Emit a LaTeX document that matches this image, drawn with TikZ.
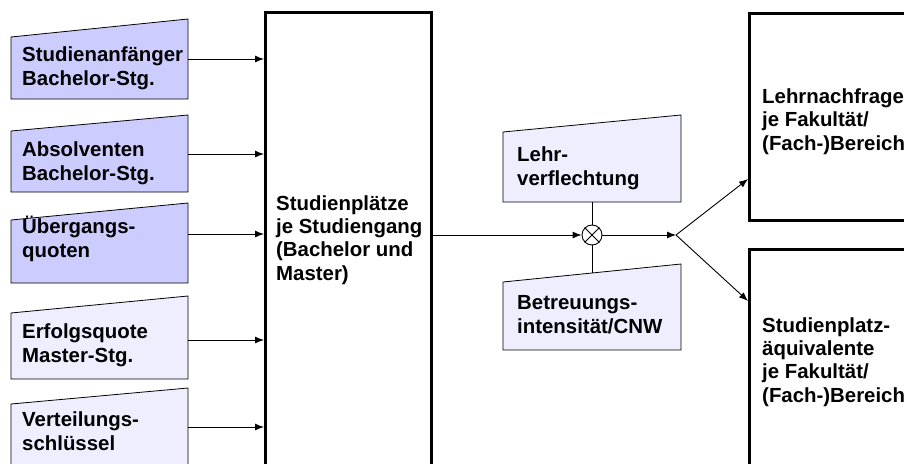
\documentclass[tikz,border=0pt]{standalone}
\usepackage{fontspec}
\setmainfont{Liberation Sans}
\usetikzlibrary{arrows.meta}
\definecolor{darkfill}{RGB}{204,204,255}
\definecolor{lightfill}{RGB}{238,238,255}
\tikzset{
  txt/.style={anchor=base west, inner sep=0pt, align=left, font=\fontsize{20.4}{23.3}\selectfont\bfseries},
  inbox/.style={draw=black, line width=0.8pt},
  bigbox/.style={draw=black, line width=3pt, rectangle, inner sep=0pt, anchor=north west},
  arr/.style={line width=0.9pt, -{Latex[length=9pt,width=7pt]}},
  ln/.style={line width=0.9pt}
}
\begin{document}
\begin{tikzpicture}[x=1pt,y=-1pt]
\useasboundingbox (0,0) rectangle (904,463);
% big boxes
\node[bigbox, minimum width=166pt, minimum height=520pt] (mid) at (264,11) {};
\node[bigbox, minimum width=220pt, minimum height=207pt] (lnf) at (748,12) {};
\node[bigbox, minimum width=220pt, minimum height=260pt] (spa) at (748,248) {};
% input boxes
\filldraw[inbox, fill=darkfill] (11,37) -- (188,19) -- (188,99) -- (11,99) -- cycle;
\filldraw[inbox, fill=darkfill] (11,131) -- (188,115) -- (188,192) -- (11,192) -- cycle;
\filldraw[inbox, fill=darkfill] (11,220) -- (188,203) -- (188,283) -- (11,283) -- cycle;
\filldraw[inbox, fill=lightfill] (11,313) -- (188,296) -- (188,379) -- (11,379) -- cycle;
\filldraw[inbox, fill=lightfill] (11,404) -- (188,388) -- (188,480) -- (11,480) -- cycle;
\filldraw[inbox, fill=lightfill] (503,132) -- (681,115) -- (681,202) -- (503,202) -- cycle;
\filldraw[inbox, fill=lightfill] (503,282) -- (681,264) -- (681,350) -- (503,350) -- cycle;
\coordinate (i1) at (188,59);
\coordinate (i2) at (188,154);
\coordinate (i3) at (188,234);
\coordinate (i4) at (188,340);
\coordinate (i5) at (188,427);
\coordinate (lv) at (592,202);
\coordinate (bi) at (592,273);
% texts (anchor = baseline of last line)
\node[txt] (t1) at (22,85) {Studienanfänger\\Bachelor-Stg.};
\node[txt] (t2) at (22,180) {Absolventen\\Bachelor-Stg.};
\node[txt] (t3) at (22,257) {Übergangs-\\quoten};
\node[txt] (t4) at (22,362) {Erfolgsquote\\Master-Stg.};
\node[txt] (t5) at (22,450) {Verteilungs-\\schlüssel};
\node[txt] (tm) at (276,280) {Studienplätze\\je Studiengang\\(Bachelor und\\Master)};
\node[txt] (tl) at (517,185) {Lehr-\\verflechtung};
\node[txt] (tb) at (517,333) {Betreuungs-\\intensität/CNW};
\node[txt] (tr1) at (762,150) {Lehrnachfrage\\je Fakultät/\\(Fach-)Bereich};
\node[txt] (tr2) at (762,402) {Studienplatz-\\äquivalente\\je Fakultät/\\(Fach-)Bereich};
% connectors
\draw[arr] (i1) -- (mid.west |- i1);
\draw[arr] (i2) -- (mid.west |- i2);
\draw[arr] (i3) -- (mid.west |- i3);
\draw[arr] (i4) -- (mid.west |- i4);
\draw[arr] (i5) -- (mid.west |- i5);
\node[draw=black, line width=0.9pt, circle, minimum size=20pt, inner sep=0pt, fill=white] (mul) at (592,235) {};
\draw[ln] (mul.north west) -- (mul.south east) (mul.north east) -- (mul.south west);
\coordinate (split) at (676,235);
\draw[arr] (mid.east |- mul) -- (mul.west);
\draw[arr] (mul.east) -- (split);
\draw[ln] (lv) -- (mul.north);
\draw[ln] (mul.south) -- (bi);
\draw[arr] (split) -- (lnf.west |- 0,179);
\draw[arr] (split) -- (spa.west |- 0,301);
\end{tikzpicture}
\end{document}
